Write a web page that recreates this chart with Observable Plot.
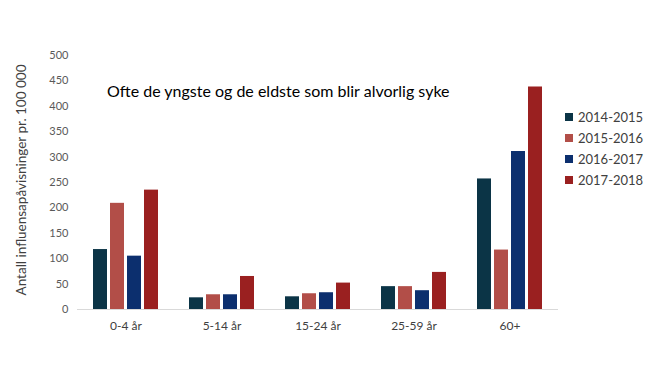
<!DOCTYPE html>
<html>
<head>
<meta charset="utf-8">
<script src="https://cdn.jsdelivr.net/npm/d3@7"></script>
<script src="https://cdn.jsdelivr.net/npm/@observablehq/plot@0.6"></script>
<style>
  html, body { margin: 0; padding: 0; background: #fff; }
  #wrap { position: relative; width: 670px; height: 377px; font-family: Lato, "Open Sans", sans-serif; }
  #title { position: absolute; left: 107px; top: 81px; font-size: 16px; color: #000; white-space: nowrap; }
  #legend { position: absolute; left: 565px; top: 106px; }
  #legend .item { display: flex; align-items: center; height: 21px; font-size: 13px; color: #404040; }
  #legend .sw { width: 8px; height: 8px; margin-right: 5px; }
</style>
</head>
<body>
<div id="wrap">
  <div id="chart"></div>
  <div id="title">Ofte de yngste og de eldste som blir alvorlig syke</div>
  <div id="legend"></div>
</div>
<script>
const categories = ["0-4 år", "5-14 år", "15-24 år", "25-59 år", "60+"];
const seasons = ["2014-2015", "2015-2016", "2016-2017", "2017-2018"];
const colors = ["#0b3446", "#b24e48", "#0c2f6e", "#9a2020"];
const values2014_2015 = [118, 23, 25, 45, 257];
const values2015_2016 = [209, 29, 31, 45, 117];
const values2016_2017 = [105, 29, 33, 37, 311];
const values2017_2018 = [235, 65, 52, 73, 438];
const yTicks = [0, 50, 100, 150, 200, 250, 300, 350, 400, 450, 500];
const yLabel = "Antall influensapåvisninger pr. 100 000";
const titleText = "Ofte de yngste og de eldste som blir alvorlig syke";

const series = [values2014_2015, values2015_2016, values2016_2017, values2017_2018];
const data = [];
categories.forEach((c, i) => {
  seasons.forEach((s, j) => data.push({category: c, season: s, value: series[j][i]}));
});

document.getElementById("title").textContent = titleText;

const plot = Plot.plot({
  width: 670,
  height: 377,
  marginLeft: 77,
  marginRight: 111,
  marginTop: 55,
  marginBottom: 68,
  style: {fontFamily: "Lato, 'Open Sans', sans-serif", fontSize: "11px", color: "#595959", background: "#fff"},
  fx: {domain: categories, paddingInner: 0.3, paddingOuter: 0.15, label: null},
  x: {domain: seasons, paddingInner: 0.2, paddingOuter: 0, axis: null},
  y: {domain: [0, 500], ticks: yTicks, label: null},
  color: {domain: seasons, range: colors},
  marks: [
    Plot.axisY({ticks: yTicks, tickSize: 0, tickPadding: 24, label: null, fontSize: 11, fill: "#595959"}),
    Plot.axisFx({anchor: "bottom", tickSize: 0, tickPadding: 12, label: null, fontSize: 12, fill: "#404040"}),
    Plot.barY(data, {fx: "category", x: "season", y: "value", fill: "season"}),
    Plot.ruleY([0], {stroke: "#d9d9d9", strokeWidth: 1, insetLeft: -15, insetRight: -15})
  ]
});
document.getElementById("chart").appendChild(plot);

const svg = d3.select(plot.tagName === "svg" ? plot : plot.querySelector("svg"));
svg.append("text")
  .attr("transform", `translate(21, 180) rotate(-90)`)
  .attr("text-anchor", "middle")
  .attr("dominant-baseline", "central")
  .attr("font-size", "13.5px")
  .attr("fill", "#404040")
  .text(yLabel);

const legend = d3.select("#legend");
seasons.forEach((s, j) => {
  const it = legend.append("div").attr("class", "item");
  it.append("div").attr("class", "sw").style("background", colors[j]);
  it.append("span").text(s);
});
</script>
</body>
</html>
